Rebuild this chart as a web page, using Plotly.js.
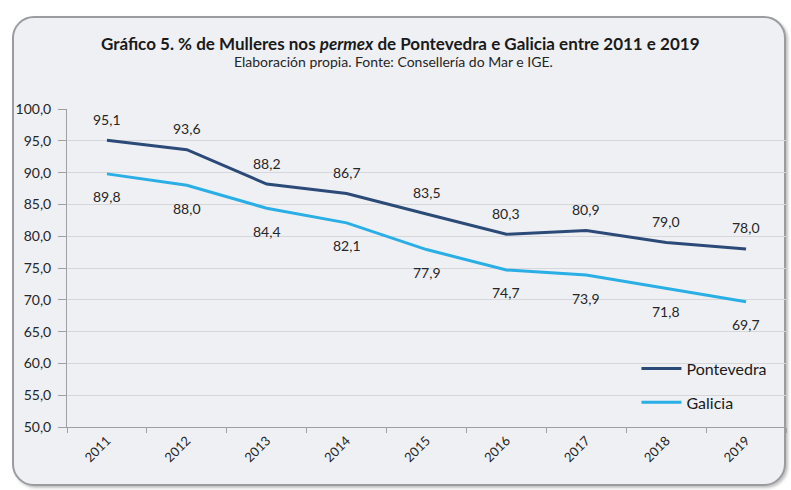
<!DOCTYPE html>
<html>
<head>
<meta charset="utf-8">
<script src="https://cdn.plot.ly/plotly-3.0.1.min.js"></script>
<style>
  html, body { margin:0; padding:0; background:#ffffff; }
  #wrap { position:relative; width:791px; height:490px; overflow:hidden; }
  #frame { position:absolute; left:12px; top:16px; width:774px; height:470px; border:2px solid #9a9ca0; border-radius:22px; background:#eff0f4; box-shadow:2px 2px 3px rgba(0,0,0,0.25); box-sizing:border-box; }
  #chart { position:absolute; left:0; top:0; width:791px; height:490px; }
</style>
</head>
<body>
<div id="wrap"><div id="frame"></div><div id="chart"></div></div>
<script>
const years = ['2011','2012','2013','2014','2015','2016','2017','2018','2019'];
const pontevedra = [95.1, 93.6, 88.2, 86.7, 83.5, 80.3, 80.9, 79.0, 78.0];
const galicia = [89.8, 88.0, 84.4, 82.1, 77.9, 74.7, 73.9, 71.8, 69.7];
const seriesNames = ['Pontevedra', 'Galicia'];
const titleText = 'Gráfico 5. % de Mulleres nos <i>permex</i> de Pontevedra e Galicia entre 2011 e 2019';
const subtitleText = 'Elaboración propia. Fonte: Consellería do Mar e IGE.';

const fmt = v => v.toFixed(1).replace('.', ',');
const FONT = 'Lato, "Open Sans", sans-serif';
const darkC = '#2c4a78';
const lightC = '#2aaee6';
const txtC = '#262626';

const traces = [
  {x: years, y: pontevedra, name: seriesNames[0], legendgroup:'a', type:'scatter', mode:'lines', line:{color:darkC, width:3}},
  {x: years, y: galicia, name: seriesNames[1], legendgroup:'b', type:'scatter', mode:'lines', line:{color:lightC, width:3}}
];

const annotations = [];
years.forEach((yr, i) => {
  annotations.push({x: i, y: pontevedra[i], xref:'x', yref:'y', text: fmt(pontevedra[i]), showarrow:false, yshift:21, font:{family:FONT, size:14, color:txtC}});
  annotations.push({x: i, y: galicia[i], xref:'x', yref:'y', text: fmt(galicia[i]), showarrow:false, yshift:-23, font:{family:FONT, size:14, color:txtC}});
});
const plotW = 791 - 67 - 5, plotH = 490 - 109 - 63;
annotations.push({x:(393-67)/plotW, y:1 + (109-61)/plotH, xref:'paper', yref:'paper', yanchor:'middle', xanchor:'center', text: subtitleText, showarrow:false, font:{family:FONT, size:14, color:txtC}});

const layout = {
  width:791, height:490,
  paper_bgcolor:'rgba(0,0,0,0)', plot_bgcolor:'rgba(0,0,0,0)',
  margin:{l:67, r:5, t:109, b:63},
  separators: ',.',
  title:{text:titleText, x:0.506, xanchor:'center', y:0.91, yanchor:'middle', font:{family:FONT, size:17, color:'#1a1a1a', weight:'bold'}},
  xaxis:{type:'category', range:[-0.5, 8.5], tickangle:-45, tickson:'boundaries', ticks:'outside', ticklen:5, tickcolor:'#a0a0a0',
         showline:true, linecolor:'#a0a0a0', linewidth:1, showgrid:false, tickfont:{family:FONT, size:13, color:txtC}},
  yaxis:{range:[50,100], dtick:5, tickformat:'.1f', ticks:'outside', ticklen:8, tickcolor:'#a0a0a0', showline:true, linecolor:'#a0a0a0', linewidth:1,
         ticklabelstandoff:4, gridcolor:'#d6d7db', gridwidth:1, zeroline:false, tickfont:{family:FONT, size:14, color:txtC}},
  showlegend:true,
  legend:{x:0.792, y:0.237, xanchor:'left', yanchor:'top', bgcolor:'rgba(0,0,0,0)', font:{family:FONT, size:16, color:'#1a1a1a'}, tracegroupgap:10, itemwidth:40},
  annotations: annotations
};
Plotly.newPlot('chart', traces, layout, {displayModeBar:false, staticPlot:true});
</script>
</body>
</html>
